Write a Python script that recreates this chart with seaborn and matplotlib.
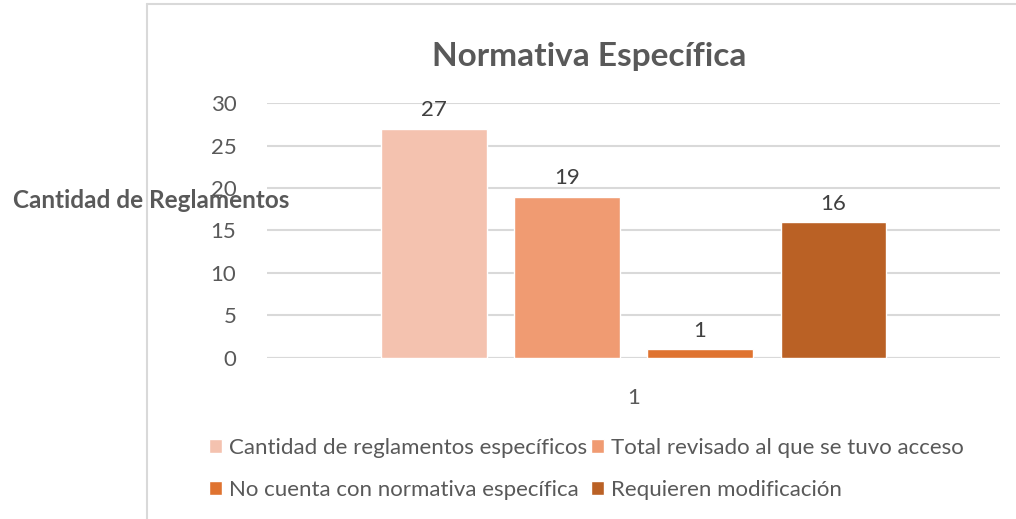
import pandas as pd
import seaborn as sns
import matplotlib.pyplot as plt
from matplotlib.lines import Line2D

# data
categoria = ["1"]
series = ["Cantidad de reglamentos específicos",
          "Total revisado al que se tuvo acceso",
          "No cuenta con normativa específica",
          "Requieren modificación"]
valores = [27, 19, 1, 16]
colores = ["#F4C2AF", "#F09B72", "#DF7330", "#BA6125"]
yticks = [0, 5, 10, 15, 20, 25, 30]

data = pd.DataFrame({"Grupo": categoria * len(series), "Serie": series, "Valor": valores})

sns.set_style("white")
plt.rcParams['font.family'] = ['Lato', 'DejaVu Sans']
gris = "#595959"

fig = plt.figure(figsize=(10.16, 5.19), dpi=100)
ax = fig.add_axes([0.2628, 0.3108, 0.7215, 0.4902])

sns.barplot(data=data, x="Grupo", y="Valor", hue="Serie", palette=colores,
            width=0.7258, gap=0.21, ax=ax, legend=True, saturation=1)

ax.set_ylim(0, 30)
ax.set_yticks(yticks)
ax.set_xlim(-0.5, 0.5)
ax.yaxis.grid(True, color="#d9d9d9", linewidth=1.5)
ax.set_axisbelow(True)
for s in ax.spines.values():
    s.set_visible(False)
ax.axhline(0, color="#d9d9d9", linewidth=1.5, zorder=0)
ax.tick_params(axis="y", length=0, pad=22, labelsize=16, labelcolor=gris)
ax.tick_params(axis="x", length=0, pad=22, labelsize=16, labelcolor=gris)
ax.set_xlabel("")
ax.set_ylabel("")

for cont in ax.containers:
    ax.bar_label(cont, padding=6, fontsize=16, color="#404040")

ax.set_title("Normativa Específica", fontsize=24, fontweight="bold", color=gris,
             pad=27, x=0.439)
fig.text(0.149, 0.613, "Cantidad de Reglamentos", fontsize=17.5, fontweight="bold",
         color=gris, ha="center", va="center")

handles, labels = ax.get_legend_handles_labels()
ax.legend_.remove()
orden = [0, 2, 1, 3]  # fill rows first like the original
fig.legend([handles[i] for i in orden], [labels[i] for i in orden], ncol=2, loc="center",
           bbox_to_anchor=(0.577, 0.097), frameon=False, fontsize=16, labelcolor=gris,
           handlelength=0.6, handleheight=0.6, handletextpad=0.3, columnspacing=0.2,
           labelspacing=1.0)

# chart border (only top and left edges are inside the picture)
fig.add_artist(Line2D([147/1016, 147/1016], [0, 1 - 4/519], color="#d9d9d9", linewidth=1.5))
fig.add_artist(Line2D([147/1016, 1], [1 - 4/519, 1 - 4/519], color="#d9d9d9", linewidth=1.5))

fig.savefig("out.png", dpi=100)
